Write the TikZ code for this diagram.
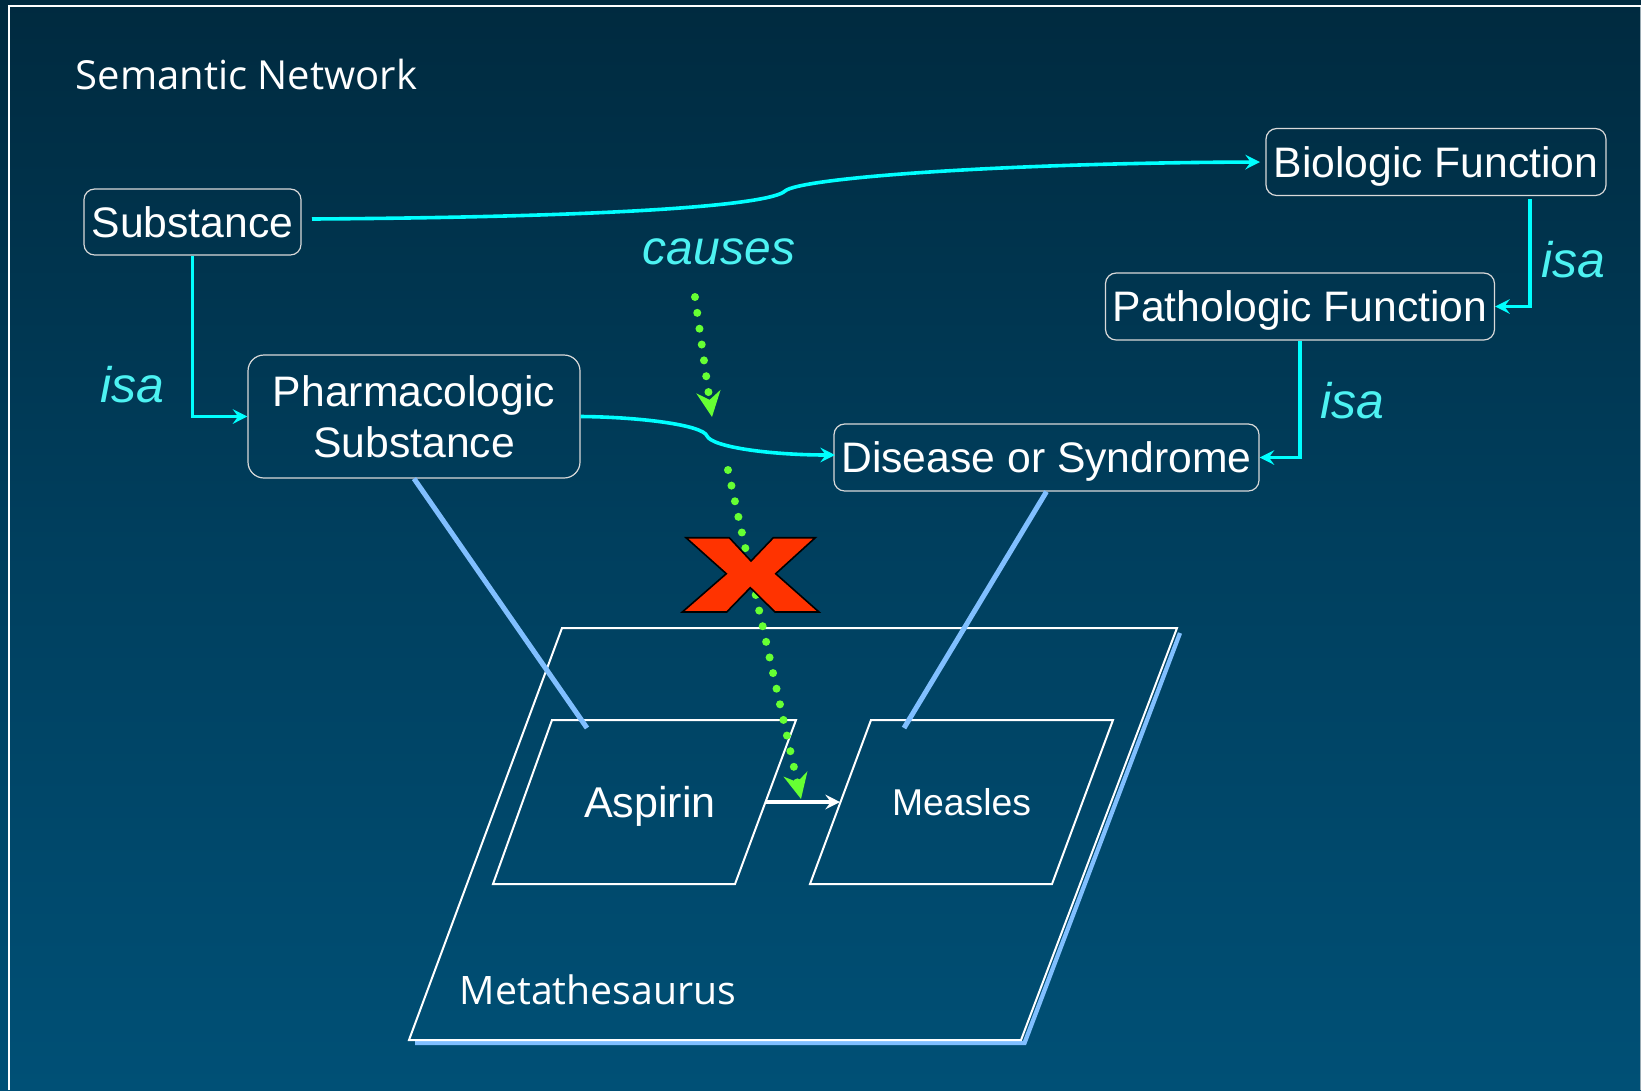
\documentclass[tikz,border=0pt]{standalone}
\usepackage{fontspec}
\setmainfont{Liberation Sans}
\newfontfamily\titlefont{Open Sans}
\usepackage{tikz}
\usetikzlibrary{arrows.meta, positioning, calc}

\definecolor{skytop}{HTML}{002A3F}
\definecolor{skymid}{HTML}{003F5E}
\definecolor{skybot}{HTML}{005076}
\definecolor{linkcyan}{HTML}{00FFFF}
\definecolor{isacyan}{HTML}{4DF2F2}
\definecolor{maplink}{HTML}{80BFFF}
\definecolor{dotgreen}{HTML}{66FF33}
\definecolor{crossred}{HTML}{FF3300}

\begin{document}
\begin{tikzpicture}[
  x=0.75pt, y=-0.75pt,
  sem/.style   = {draw=white!85!black, line width=0.9pt, rounded corners=8pt, text=white, inner sep=0pt,
                  font=\fontsize{32}{38.5}\selectfont, align=center},
  semline/.style = {sem, text height=22.5pt, text depth=0pt},
  plane/.style = {draw=white, line width=1.5pt, line join=miter},
  arr/.style   = {-{Stealth[length=11pt, width=11pt, inset=4pt]}, linkcyan, line width=2.7pt},
  isalbl/.style = {text=isacyan, font=\fontsize{37.5}{40}\selectfont\itshape},
  maplbl/.style = {maplink, line width=3.8pt},
  infer/.style = {-{Stealth[length=19pt, width=18pt, inset=6pt]}, dotgreen, line width=6pt,
                  line cap=round, dash pattern=on 0pt off 12pt},
]
\useasboundingbox (0,0) rectangle (1641,1090);

% -- Background and frame ---------------------------------------------------
\fill[top color=skytop, bottom color=skybot, middle color=skymid] (0,0) rectangle (1641,1090);
\draw[white, line width=1.5pt] (9,1090) -- (9,6) -- (1641,6);
\draw[white!60!skytop, line width=0.75pt] (1640,7) -- (1640,1090);

\node[text=white, font=\titlefont\fontsize{30}{38}\selectfont, anchor=west] (title) at (71,74) {Semantic Network};

% -- Semantic network -------------------------------------------------------
\node[semline, minimum width=162.75pt, minimum height=49.5pt] (subst) at (192.5,222) {Substance};
\node[sem, minimum width=249pt, minimum height=92.25pt, rounded corners=12pt] (pharma) at (414,416.5)
     {Pharmacologic\\Substance};
\node[semline, minimum width=255pt, minimum height=50.25pt] (bio) at (1436,162) {Biologic Function};
\node[semline, minimum width=291.75pt, minimum height=50.25pt] (path) at (1300,306.5) {Pathologic Function};
\node[semline, minimum width=318.75pt, minimum height=50.25pt] (dis) at (1046.5,457.5) {Disease or Syndrome};

\coordinate (bioout) at (1530,199);
\coordinate (substout) at (312,219);
\coordinate (bioin) at (1260,162);
\coordinate (disin) at (835,455);

\draw[arr] (subst.south) |- (pharma.west);
\draw[arr] (bioout) |- (path.east);
\draw[arr] (path.south) |- (dis.east);

\draw[arr] (substout) .. controls (620,217) and (770,205) .. (785,191)
                      .. controls (800,178) and (1000,163) .. (bioin);
\draw[arr] (pharma.east) .. controls (640,417) and (703,425) .. (707,436)
                         .. controls (712,447) and (770,455) .. (disin);

\node[isalbl] (isaa) at (132.5,385) {isa};
\node[isalbl] (isab) at (1573.5,259.5) {isa};
\node[isalbl] (isac) at (1352,401) {isa};
\node[isalbl, font=\fontsize{36}{40}\selectfont\itshape] (causes) at (719,252) {causes};

% -- Metathesaurus ----------------------------------------------------------
\draw[maplink, line width=3.2pt] (415,1043) -- (1024.5,1043) -- (1180,633);
\draw[plane] (562,628) -- (1177,628) -- (1021,1040) -- (409,1040) -- cycle;
\draw[plane] (552,720) -- (796,720) -- (735,884) -- (493,884) -- cycle;
\draw[plane] (871,720) -- (1113,720) -- (1052,884) -- (810,884) -- cycle;

\node[text=white, font=\titlefont\fontsize{29.4}{36}\selectfont] (metalbl) at (598,990) {Metathesaurus};
\node[text=white, font=\fontsize{32.3}{38}\selectfont, text height=22.5pt, text depth=0pt] (asp) at (650,802) {Aspirin};
\node[text=white, font=\fontsize{28}{34}\selectfont] (meas) at (961.5,802) {Measles};

\coordinate (aspedge) at (765,802);
\coordinate (measedge) at (840,802);
\draw[-{Stealth[length=11pt, width=11pt, inset=4pt]}, white, line width=2.7pt] (aspedge) -- (measedge);

\coordinate (aspin) at (587,728);
\coordinate (measin) at (904,728);
\draw[maplbl] (pharma.south) -- (aspin);
\draw[maplbl] (dis.south) -- (measin);

% -- Missing inference ------------------------------------------------------
\coordinate (causetop) at (695,297);
\coordinate (causeend) at (712,417);
\coordinate (crossA) at (728,470);
\coordinate (crossB) at (801,799);
\draw[infer] (causetop) -- (causeend);
\draw[infer] (crossA) -- (crossB);

\draw[fill=crossred, draw=black, line width=1.2pt, line join=miter]
  (686,537.7) -- (729.3,537.7) -- (751,561) -- (773.3,537.7) -- (815.3,537.7) -- (775.7,573.7)
  -- (819,612) -- (775,612) -- (750.3,587.7) -- (726.7,612) -- (682.3,612) -- (726.3,573.7) -- cycle;

\end{tikzpicture}
\end{document}
